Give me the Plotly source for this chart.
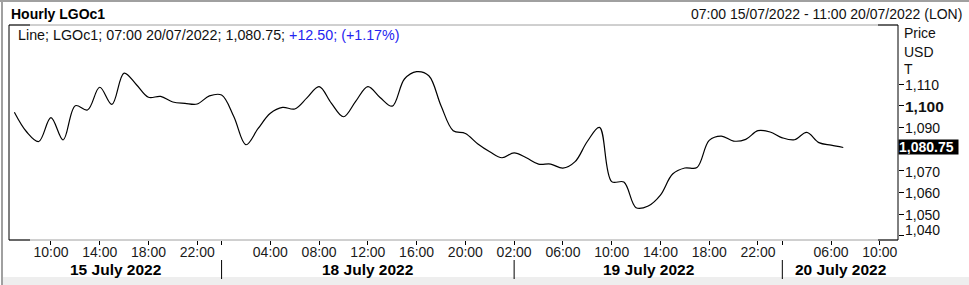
import plotly.graph_objects as go

# ---------------- data ----------------
bar_index = list(range(69))  # hourly bars, 07:00 15/07/2022 .. 07:00 20/07/2022 (trading hours only)
prices = [
    1097.0, 1088.0, 1083.5, 1094.5, 1084.2, 1100.0, 1098.0, 1108.5, 1100.6, 1115.0,
    1109.8, 1103.9, 1104.3, 1101.7, 1101.1, 1100.8, 1104.5, 1104.9, 1095.0, 1082.0,
    1089.5, 1096.5, 1099.2, 1098.5, 1103.6, 1108.8, 1101.2, 1094.9, 1102.0, 1108.8,
    1103.8, 1099.8, 1112.3, 1115.7, 1113.8, 1100.0, 1088.5, 1087.2, 1082.5, 1078.8,
    1076.0, 1078.3, 1076.0, 1073.1, 1073.1, 1071.2, 1074.2, 1083.5, 1090.0, 1065.0,
    1064.8, 1053.0, 1053.8, 1058.8, 1068.5, 1071.3, 1071.5, 1084.0, 1086.0, 1083.7,
    1084.5, 1088.5, 1087.9, 1085.2, 1084.3, 1087.7, 1083.0, 1081.8, 1080.75,
]
x_tick_vals = [3, 7, 11, 15, 17, 21, 25, 29, 33, 37, 41, 45, 49, 53, 57, 61, 63, 67, 71]
x_tick_text = ["10:00", "14:00", "18:00", "22:00", "", "04:00", "08:00", "12:00", "16:00",
               "20:00", "02:00", "06:00", "10:00", "14:00", "18:00", "22:00", "", "06:00", "10:00"]
day_bounds = [17, 41, 63]
day_labels = ["15 July 2022", "18 July 2022", "19 July 2022", "20 July 2022"]
y_tick_vals = [1040, 1050, 1060, 1070, 1090, 1100, 1110]
y_tick_text = ["1,040", "1,050", "1,060", "1,070", "1,090", "1,100", "1,110"]
last_price = 1080.75
last_label = "1,080.75"

X_RANGE = [-0.44, 72.49]
Y_RANGE = [1038.1, 1137.2]

W, H = 969, 285
L, R, T, B = 9, 898, 25, 240  # plot area in px
FONT = "Liberation Sans, Arial, sans-serif"


def px(xp):
    return (xp - L) / (R - L)


def py(yp):
    return (B - yp) / (B - T)


fig = go.Figure()
fig.add_trace(go.Scatter(
    x=bar_index, y=prices, mode="lines",
    line=dict(color="black", width=1.2, shape="spline", smoothing=1.0),
    hoverinfo="skip", showlegend=False,
))

shapes = []
gray = "#a0a0a0"
# outer borders
shapes.append(dict(type="line", xref="paper", yref="paper", x0=px(2), x1=px(2), y0=py(0), y1=py(285),
                   line=dict(color=gray, width=2)))
shapes.append(dict(type="line", xref="paper", yref="paper", x0=px(0), x1=px(969), y0=py(1), y1=py(1),
                   line=dict(color=gray, width=2)))
# bottom band
shapes.append(dict(type="rect", xref="paper", yref="paper", x0=px(3), x1=px(969), y0=py(277), y1=py(285),
                   fillcolor="#eeeeee", line=dict(width=0), layer="below"))
# plot frame (gray top/bottom, black corners and sides)
for yy in (T, B):
    shapes.append(dict(type="line", xref="paper", yref="paper", x0=0, x1=1, y0=py(yy), y1=py(yy),
                       line=dict(color=gray, width=1)))
    shapes.append(dict(type="line", xref="paper", yref="paper", x0=0, x1=px(30), y0=py(yy), y1=py(yy),
                       line=dict(color="black", width=1)))
    shapes.append(dict(type="line", xref="paper", yref="paper", x0=px(878), x1=1, y0=py(yy), y1=py(yy),
                       line=dict(color="black", width=1)))
for xx in (0, 1):
    shapes.append(dict(type="line", xref="paper", yref="paper", x0=xx, x1=xx, y0=0, y1=1,
                       line=dict(color="black", width=1)))
# day separators
for d in day_bounds:
    shapes.append(dict(type="line", xref="x", yref="paper", x0=d, x1=d, y0=py(260), y1=py(279),
                       line=dict(color="black", width=1)))

ann = []
ann.append(dict(text="<b>Hourly LGOc1</b>", xref="paper", yref="paper", x=px(9), y=py(14),
                xanchor="left", yanchor="middle", showarrow=False, font=dict(size=14, color="black")))
ann.append(dict(text="07:00 15/07/2022 - 11:00 20/07/2022 (LON)", xref="paper", yref="paper",
                x=px(964), y=py(14), xanchor="right", yanchor="middle", showarrow=False,
                font=dict(size=14, color="#111111")))
ann.append(dict(text="Line; LGOc1; 07:00 20/07/2022; 1,080.75; <span style='color:#2424f0'>+12.50; (+1.17%)</span>",
                xref="paper", yref="paper", x=px(16), y=py(35), xanchor="left", yanchor="middle",
                showarrow=False, font=dict(size=14.3, color="#111111")))
for t, yy in (("Price", 33), ("USD", 51.5), ("T", 69)):
    ann.append(dict(text=t, xref="paper", yref="paper", x=px(902), y=py(yy), xanchor="left",
                    yanchor="middle", showarrow=False, font=dict(size=14, color="#111111")))
for v, t in zip(y_tick_vals, y_tick_text):
    bold = (v == 1100)
    shift = 6 if v == 1040 else -1
    ann.append(dict(text=f"<b>{t}</b>" if bold else t, xref="paper", yref="y", x=1, y=v,
                    xanchor="left", yanchor="middle", xshift=5, yshift=shift, showarrow=False,
                    font=dict(size=15.5 if bold else 14, color="#111111")))
ann.append(dict(text=f"<b>{last_label}</b>", xref="paper", yref="y", x=1, y=last_price,
                xanchor="left", yanchor="middle", showarrow=False, bgcolor="black",
                borderpad=0, width=59, height=14, align="left",
                font=dict(size=14, color="white")))
# day labels
spans = [X_RANGE[0]] + day_bounds + [X_RANGE[1]]
for i, lab in enumerate(day_labels):
    ann.append(dict(text=f"<b>{lab}</b>", xref="x", yref="paper", x=(spans[i] + spans[i + 1]) / 2,
                    y=py(269), xanchor="center", yanchor="middle", showarrow=False,
                    font=dict(size=15.5, color="black")))

fig.update_layout(
    width=W, height=H,
    margin=dict(l=L, r=W - R, t=T, b=H - B, pad=0),
    paper_bgcolor="white", plot_bgcolor="white",
    font=dict(family=FONT, size=14, color="#111111"),
    shapes=shapes, annotations=ann,
    xaxis=dict(range=X_RANGE, showgrid=False, zeroline=False, showline=False,
               tickmode="array", tickvals=x_tick_vals, ticktext=x_tick_text,
               ticks="outside", ticklen=4, tickcolor="black", tickwidth=1,
               ticklabelstandoff=-5,
               tickfont=dict(size=14, color="#1a1a1a"), fixedrange=True),
    yaxis=dict(range=Y_RANGE, side="right", showgrid=False, zeroline=False, showline=False,
               tickmode="array", tickvals=y_tick_vals, ticks="outside", ticklen=5,
               tickcolor="black", showticklabels=False, fixedrange=True),
    showlegend=False,
)

fig.write_html("out.html", config={"displayModeBar": False})
